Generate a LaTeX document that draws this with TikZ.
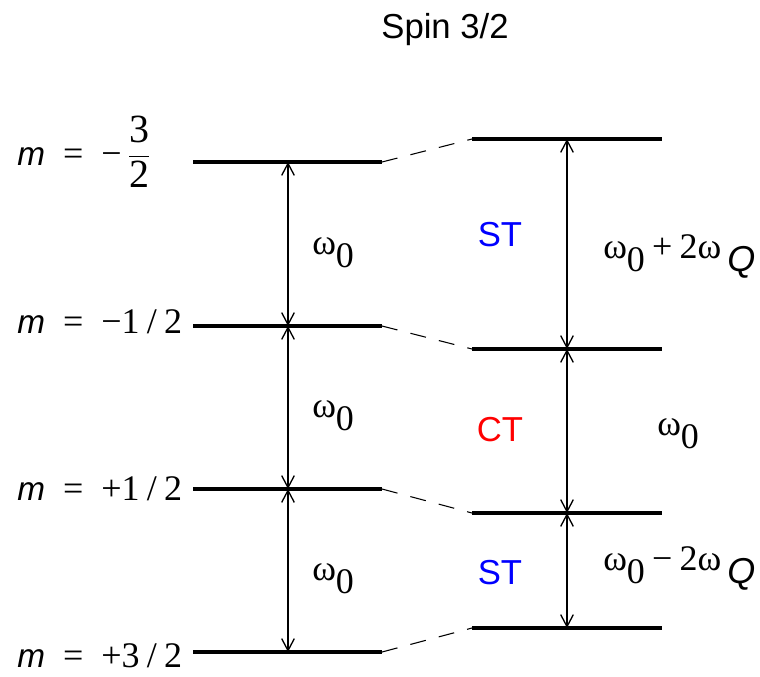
\documentclass[tikz,border=0pt]{standalone}
\usepackage{amsmath}
\usepackage{fontspec}
\setmainfont{Liberation Serif}
\setsansfont{Liberation Sans}
\usetikzlibrary{arrows.meta}

\tikzset{
	level/.style={line width=2.3pt},
	link/.style={line width=0.8pt, dash pattern=on 12pt off 10pt},
	gap/.style={line width=1pt, {Straight Barb[length=9pt,width=9.5pt]}-{Straight Barb[length=9pt,width=9.5pt]}},
	lab/.style={font=\fontsize{27}{30}\selectfont, inner sep=0pt, anchor=base west},
	tag/.style={font=\sffamily\fontsize{26}{30}\selectfont, inner sep=0pt, anchor=base},
}
\newcommand{\om}[1]{ω\raisebox{-0.8ex}{#1}}
\newcommand{\mis}{{\sffamily\itshape\fontsize{25}{30}\selectfont m}\hspace{0.5em}=\hspace{0.5em}}
\newcommand{\Qs}{\textsf{\textit{Q}}}
\newcommand{\fracdigit}[1]{\text{\fontsize{30}{30}\selectfont #1}}
\newcommand{\slsep}{\hspace{0.2em}/\hspace{0.2em}}

\begin{document}
\begin{tikzpicture}[x=0.75pt,y=-0.75pt]
	\useasboundingbox (0,0) rectangle (760,676);
	% \coordinate () at ();
	\foreach \name/\y in {a/162,b/326,c/489,d/652} {
		\coordinate (L\name1) at (193,\y);
		\coordinate (L\name2) at (382,\y);
		\coordinate (L\name) at (288,\y);
	}
	\foreach \name/\y in {a/139,b/349,c/513,d/628} {
		\coordinate (R\name1) at (472,\y);
		\coordinate (R\name2) at (662,\y);
		\coordinate (R\name) at (567,\y);
	}
	
	\foreach \name in {a,b,c,d} {
		\draw[level] (L\name1) -- (L\name2);
		\draw[level] (R\name1) -- (R\name2);
		\draw[link] (L\name2) -- (R\name1);
	}
	\foreach \up/\down in {a/b,b/c,c/d} {
		\draw[gap] (L\up) -- (L\down);
		\draw[gap] (R\up) -- (R\down);
	}
	
	\node[tag] (title) at (445,38) {Spin 3/2};
	\node[lab] (ma) at (17,165) {\mis−\,$\dfrac{\fracdigit{3}}{\fracdigit{2}}$};
	\node[lab] (mb) at (17,333) {\mis−1\slsep 2};
	\node[lab] (mc) at (17,500) {\mis+1\slsep 2};
	\node[lab] (md) at (17,667) {\mis+3\slsep 2};
	
	\node[lab] (wa) at (312,254) {\om{0}};
	\node[lab] (wb) at (312,417) {\om{0}};
	\node[lab] (wc) at (312,580) {\om{0}};
	
	\node[tag, blue] (st1) at (500,246) {ST};
	\node[tag, red] (ct) at (500,441) {CT};
	\node[tag, blue] (st2) at (500,584) {ST};
	
	\node[lab] (wr1) at (603,258) {\om{0}\hspace{0.2em}+\hspace{0.2em}2\om{\,\Qs}};
	\node[lab] (wr2) at (657,435) {\om{0}};
	\node[lab] (wr3) at (603,570) {\om{0}\hspace{0.2em}−\hspace{0.2em}2\om{\,\Qs}};
\end{tikzpicture}
\end{document}
